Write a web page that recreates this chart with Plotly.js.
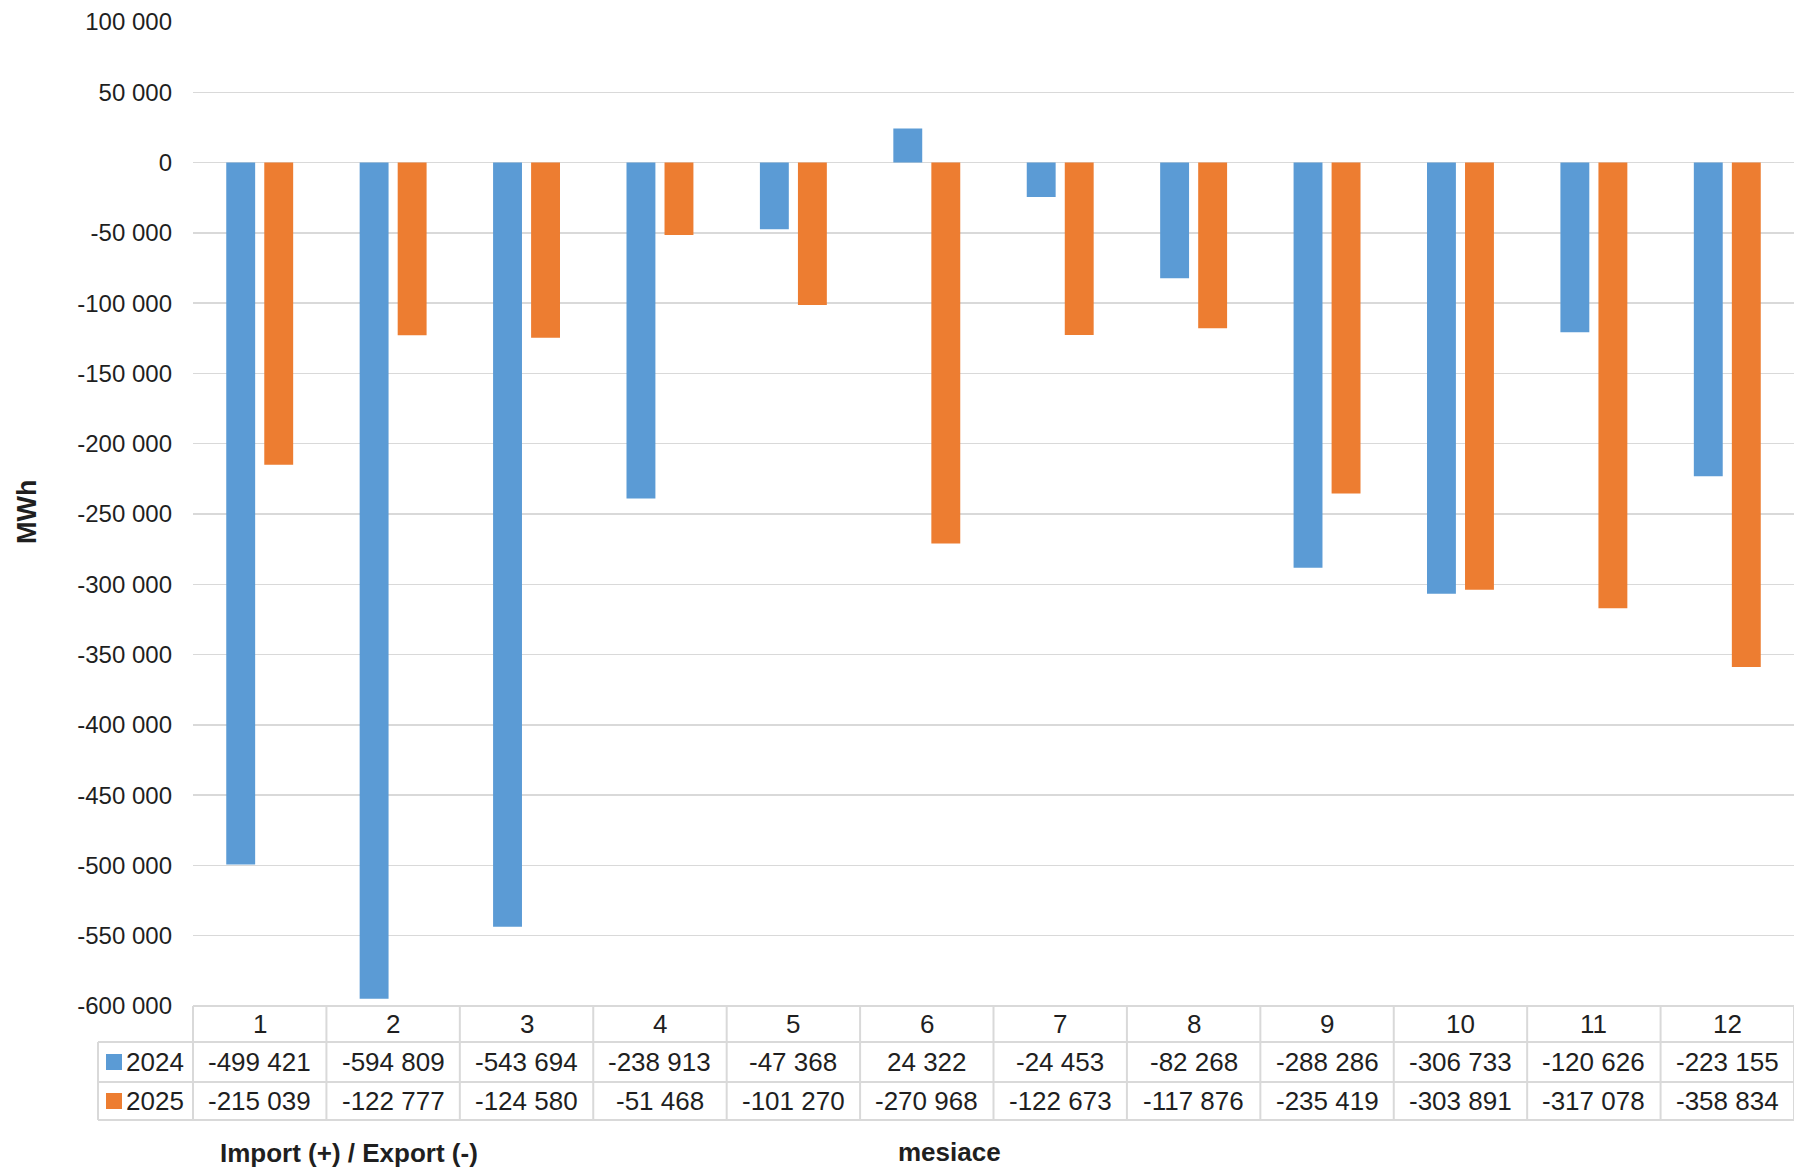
<!DOCTYPE html>
<html>
<head>
<meta charset="utf-8">
<script src="https://cdn.plot.ly/plotly-3.0.1.min.js"></script>
<style>
  html, body { margin: 0; padding: 0; background: #ffffff; }
  #chart { width: 1794px; height: 1167px; }
</style>
</head>
<body>
<div id="chart"></div>
<script>
// ---- data ----
const months = ["1", "2", "3", "4", "5", "6", "7", "8", "9", "10", "11", "12"];
const seriesNames = ["2024", "2025"];
const values2024 = [-499421, -594809, -543694, -238913, -47368, 24322, -24453, -82268, -288286, -306733, -120626, -223155];
const values2025 = [-215039, -122777, -124580, -51468, -101270, -270968, -122673, -117876, -235419, -303891, -317078, -358834];
const yTickValues = [100000, 50000, 0, -50000, -100000, -150000, -200000, -250000, -300000, -350000, -400000, -450000, -500000, -550000, -600000];
const yAxisTitle = "MWh";
const xAxisTitleLeft = "Import (+) / Export (-)";
const xAxisTitleCenter = "mesiace";

// ---- style ----
const colors = ["#5B9BD5", "#ED7D31"];
const FONT = "Liberation Sans, Arial, Helvetica, sans-serif";
const TXT = "#1f1f1f";
const GRID = "#d9d9d9";

const W = 1794, H = 1167;
const M = { l: 193, r: 0, t: 22, b: 161 };
const plotW = W - M.l - M.r, plotH = H - M.t - M.b;
const plotBottom = M.t + plotH;
const px = X => (X - M.l) / plotW;      // pixel x -> paper x
const py = Y => (plotBottom - Y) / plotH; // pixel y -> paper y

function fmt(v) {
  const s = Math.abs(v).toString().replace(/\B(?=(\d{3})+(?!\d))/g, " ");
  return (v < 0 ? "-" : "") + s;
}

const traces = [values2024, values2025].map((vals, i) => ({
  type: "bar",
  name: seriesNames[i],
  x: months,
  y: vals,
  marker: { color: colors[i] },
  hoverinfo: "x+y+name"
}));

// table geometry (pixels)
const rowTop = 1006, rowH1 = 1042, rowH2 = 1082, rowBot = 1120;
const legLeft = 98;
const n = months.length;

const shapes = [];
const line = (x0, y0, x1, y1) => ({
  type: "line", xref: "paper", yref: "paper",
  x0: x0, y0: y0, x1: x1, y1: y1,
  line: { color: GRID, width: 2 }
});
for (let k = 0; k <= n; k++) {
  shapes.push(line(k / n, py(rowTop), k / n, py(rowBot)));
}
shapes.push(line(0, py(rowTop), 1, py(rowTop)));
[rowH1, rowH2, rowBot].forEach(Y => shapes.push(line(px(legLeft), py(Y), 1, py(Y))));
shapes.push(line(px(legLeft), py(rowH1), px(legLeft), py(rowBot)));
// legend keys
[[rowH1, rowH2], [rowH2, rowBot]].forEach((r, i) => {
  const c = (r[0] + r[1]) / 2;
  shapes.push({
    type: "rect", xref: "paper", yref: "paper",
    x0: px(106), x1: px(122), y0: py(c + 8), y1: py(c - 8),
    fillcolor: colors[i], line: { width: 0 }
  });
});

const annotations = [];
const cellFont = { family: FONT, size: 26, color: TXT };
months.forEach((m, i) => {
  const cx = (i + 0.5) / n;
  annotations.push({ xref: "paper", yref: "paper", x: cx, y: py((rowTop + rowH1) / 2),
    text: m, showarrow: false, font: cellFont, xanchor: "center", yanchor: "middle" });
  annotations.push({ xref: "paper", yref: "paper", x: cx, y: py((rowH1 + rowH2) / 2),
    text: fmt(values2024[i]), showarrow: false, font: cellFont, xanchor: "center", yanchor: "middle" });
  annotations.push({ xref: "paper", yref: "paper", x: cx, y: py((rowH2 + rowBot) / 2),
    text: fmt(values2025[i]), showarrow: false, font: cellFont, xanchor: "center", yanchor: "middle" });
});
[[rowH1, rowH2], [rowH2, rowBot]].forEach((r, i) => {
  annotations.push({ xref: "paper", yref: "paper", x: px(124), y: py((r[0] + r[1]) / 2),
    text: seriesNames[i], showarrow: false, font: cellFont, xanchor: "left", yanchor: "middle" });
});
// axis titles
annotations.push({ xref: "paper", yref: "paper", x: px(349), y: py(1153),
  text: "<b>" + xAxisTitleLeft + "</b>", showarrow: false,
  font: { family: FONT, size: 26, color: TXT }, xanchor: "center", yanchor: "middle" });
annotations.push({ xref: "paper", yref: "paper", x: px(949), y: py(1152),
  text: "<b>" + xAxisTitleCenter + "</b>", showarrow: false,
  font: { family: FONT, size: 26, color: TXT }, xanchor: "center", yanchor: "middle" });
annotations.push({ xref: "paper", yref: "paper", x: px(27), y: py(512),
  text: "<b>" + yAxisTitle + "</b>", showarrow: false, textangle: -90,
  font: { family: FONT, size: 27, color: TXT }, xanchor: "center", yanchor: "middle" });

const layout = {
  width: W, height: H,
  margin: M,
  paper_bgcolor: "#ffffff",
  plot_bgcolor: "#ffffff",
  showlegend: false,
  barmode: "group",
  bargap: 0.43,
  bargroupgap: 0.24,
  font: { family: FONT, color: TXT },
  xaxis: {
    type: "category",
    range: [-0.5, n - 0.5],
    showticklabels: false,
    showgrid: false,
    zeroline: false,
    showline: false,
    ticks: "",
    fixedrange: true
  },
  yaxis: {
    range: [-600000, 100000],
    tickmode: "array",
    tickvals: yTickValues,
    ticktext: yTickValues.map(fmt),
    showgrid: true,
    gridcolor: GRID,
    gridwidth: 1.5,
    zeroline: false,
    showline: false,
    ticks: "",
    ticklabelstandoff: 20,
    tickfont: { family: FONT, size: 24, color: TXT },
    automargin: false,
    fixedrange: true
  },
  shapes: shapes,
  annotations: annotations
};

Plotly.newPlot("chart", traces, layout, { displayModeBar: false, staticPlot: true });
</script>
</body>
</html>
